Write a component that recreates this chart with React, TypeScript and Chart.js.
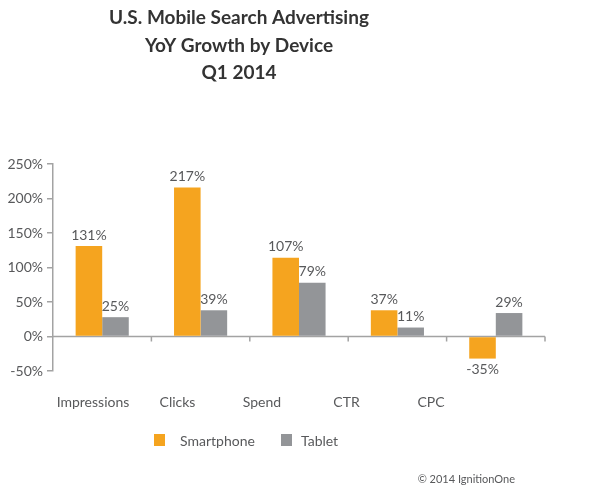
import React, { useEffect, useRef } from "react";
import { Chart, registerables } from "chart.js";

Chart.register(...registerables);

const categories = ["Impressions", "Clicks", "Spend", "CTR", "CPC"];
const smartphoneValues = [131, 216, 114, 38, -32];
const tabletValues = [28, 38, 78, 13, 34];
const smartphoneLabels = ["131%", "217%", "107%", "37%", "-35%"];
const tabletLabels = ["25%", "39%", "79%", "11%", "29%"];
const seriesNames = ["Smartphone", "Tablet"];
const titleLines = ["U.S. Mobile Search Advertising", "YoY Growth by Device", "Q1 2014"];
const yTicks = { min: -50, max: 250, step: 50 };

const ORANGE = "#F5A41F";
const GRAY = "#939598";
const TEXT = "#58595B";
const AXIS = "#A3A3A3";
const FONT = "Lato";

const decorPlugin = {
  id: "decor",
  beforeDatasetsDraw(chart: any) {
    const { ctx, chartArea, scales } = chart;
    const y0 = scales.y.getPixelForValue(0);
    ctx.save();
    ctx.strokeStyle = AXIS;
    ctx.lineWidth = 1.5;
    ctx.beginPath();
    ctx.moveTo(chartArea.left, y0);
    ctx.lineTo(chartArea.right, y0);
    const step = scales.x.getPixelForValue(1) - scales.x.getPixelForValue(0);
    for (let i = 0; i < categories.length; i++) {
      const bx = scales.x.getPixelForValue(i) + step / 2;
      ctx.moveTo(bx, y0);
      ctx.lineTo(bx, y0 + 5);
    }
    ctx.stroke();
    ctx.restore();
  },
  afterDatasetsDraw(chart: any) {
    const { ctx } = chart;
    const labelSets = [smartphoneLabels, tabletLabels];
    ctx.save();
    ctx.font = `14px ${FONT}`;
    ctx.fillStyle = TEXT;
    ctx.textAlign = "center";
    chart.data.datasets.forEach((ds: any, di: number) => {
      const meta = chart.getDatasetMeta(di);
      meta.data.forEach((el: any, i: number) => {
        const v = ds.data[i];
        if (v >= 0) {
          ctx.textBaseline = "bottom";
          ctx.fillText(labelSets[di][i], el.x, el.y - 4);
        } else {
          ctx.textBaseline = "top";
          ctx.fillText(labelSets[di][i], el.x, el.y + 4);
        }
      });
    });
    ctx.restore();
  },
  afterDraw(chart: any) {
    const { ctx } = chart;
    ctx.save();
    // title
    ctx.fillStyle = "#333333";
    ctx.font = `bold 19px ${FONT}`;
    ctx.textAlign = "center";
    ctx.textBaseline = "middle";
    titleLines.forEach((t, i) => ctx.fillText(t, 239, 18 + i * 27.5));
    // legend
    const colors = chart.data.datasets.map((d: any) => d.backgroundColor);
    const boxX = [154, 281];
    const textX = [180, 301];
    ctx.font = `14px ${FONT}`;
    ctx.textAlign = "left";
    seriesNames.forEach((n, i) => {
      ctx.fillStyle = colors[i];
      ctx.fillRect(boxX[i], 434, 11, 12);
      ctx.fillStyle = TEXT;
      ctx.fillText(n, textX[i], 441);
    });
    // copyright
    ctx.font = `11px ${FONT}`;
    ctx.textAlign = "right";
    ctx.fillStyle = TEXT;
    ctx.fillText("\u00A9 2014 IgnitionOne", 515, 479);
    ctx.restore();
  },
};

export default function App() {
  const ref = useRef<HTMLCanvasElement | null>(null);
  useEffect(() => {
    if (!ref.current) return;
    const chart = new Chart(ref.current, {
      type: "bar",
      data: {
        labels: categories,
        datasets: [
          { label: seriesNames[0], data: smartphoneValues, backgroundColor: ORANGE, barPercentage: 1, categoryPercentage: 0.54 },
          { label: seriesNames[1], data: tabletValues, backgroundColor: GRAY, barPercentage: 1, categoryPercentage: 0.54 },
        ],
      },
      options: {
        animation: false,
        responsive: false,
        layout: { padding: { left: 6, right: 55, top: 164, bottom: 60 } },
        plugins: { legend: { display: false }, tooltip: { enabled: false }, title: { display: false } },
        scales: {
          x: { display: false },
          x2: {
            type: "linear",
            position: "bottom",
            bounds: "data",
            offset: false,
            min: -0.473,
            max: 5.349,
            grid: { display: false, drawTicks: false, offset: false },
            border: { display: false },
            afterBuildTicks: (s: any) => {
              s.ticks = categories.map((_, i) => ({ value: i }));
            },
            ticks: {
              autoSkip: false,
              maxRotation: 0,
              padding: 23,
              color: TEXT,
              font: { family: FONT, size: 14 },
              callback: (v: any) => categories[Math.round(Number(v))] ?? "",
            },
            afterFit: (s: any) => {
              s.height = 488 - 60 - 371;
            },
          },
          y: {
            min: yTicks.min,
            max: yTicks.max,
            border: { display: true, color: AXIS, width: 1.5 },
            grid: { drawOnChartArea: false, color: AXIS, lineWidth: 1.5, tickLength: 6 },
            ticks: {
              stepSize: yTicks.step,
              padding: 4,
              color: TEXT,
              font: { family: FONT, size: 14 },
              callback: (v: any) => `${v}%`,
            },
            afterFit: (s: any) => {
              s.width = 47;
            },
          },
        },
      },
      plugins: [decorPlugin],
    } as any);
    return () => chart.destroy();
  }, []);
  return (
    <div style={{ position: "fixed", left: 0, top: 0, width: 600, height: 488, background: "#fff" }}>
      <canvas ref={ref} width={600} height={488} style={{ display: "block" }} />
    </div>
  );
}
